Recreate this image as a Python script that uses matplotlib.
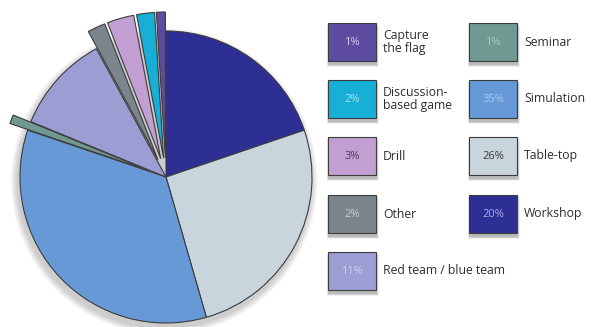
import matplotlib
matplotlib.use("Agg")
import matplotlib.pyplot as plt
from matplotlib.patches import Rectangle, Circle

plt.rcParams['font.family'] = ['Open Sans', 'DejaVu Sans']

# Exercise types, in pie order (clockwise from 12 o'clock)
categories = ["Workshop", "Table-top", "Simulation", "Seminar",
              "Red team / blue team", "Other", "Drill",
              "Discussion-\nbased game", "Capture\nthe flag"]
values = [20, 26, 35, 1, 11, 2, 3, 2, 1]
colors = ["#2e2f94", "#c9d5dd", "#6699d6", "#6f9a92",
          "#9c9dd3", "#7c848e", "#c29fd2", "#18afd6", "#5d4ca0"]
explode = [0, 0, 0, 0.13, 0, 0.13, 0.13, 0.13, 0.13]
pct_colors = ["#a9aae6", "#3a3a3a", "#a9c9f2", "#a9c8c0",
              "#d0d0f4", "#c4ccd4", "#4a3a5a", "#a8e2f2", "#d6ccf2"]

# Legend arrangement: two columns, alphabetical
legend_col1 = ["Capture\nthe flag", "Discussion-\nbased game", "Drill",
               "Other", "Red team / blue team"]
legend_col2 = ["Seminar", "Simulation", "Table-top", "Workshop"]

W, H = 591, 327
fig = plt.figure(figsize=(W / 100, H / 100), dpi=100)
fig.patch.set_facecolor("white")

# Pie axes: centre (166, 177) px, radius 146 px
cx, cy, r = 166, 177, 146
half = 1.2 * r
ax = fig.add_axes([(cx - half) / W, (H - cy - half) / H, 2 * half / W, 2 * half / H])

ax.pie(values, colors=colors, explode=explode, startangle=90, counterclock=False,
       radius=1.0, wedgeprops=dict(edgecolor="#3c3c3c", linewidth=0.8))

# soft shadow behind the pie
for i in range(4):
    ax.add_patch(Circle((-0.012, -0.03), 1.0 + 0.012 * (4 - i), color="#000000",
                        alpha=0.05, lw=0, zorder=0))

ax.set_xlim(-1.2, 1.2)
ax.set_ylim(-1.2, 1.2)
ax.set_aspect("equal")
ax.axis("off")

# Legend boxes drawn in pixel coordinates
fax = fig.add_axes([0, 0, 1, 1])
fax.set_xlim(0, W)
fax.set_ylim(H, 0)
fax.axis("off")
fax.patch.set_alpha(0)

box_w, box_h = 48, 38
row_y = [23, 80, 137, 195, 252]
col_x = [328, 469]
label_dx = 55


def draw_entry(x, y, name):
    i = categories.index(name)
    # drop shadow
    for k, a in enumerate([0.05, 0.06, 0.08, 0.11]):
        g = 4 - k
        fax.add_patch(Rectangle((x + 0.5 - g / 2, y + 3.5 - g / 2), box_w + g, box_h + g,
                                color="black", alpha=a, lw=0, zorder=1))
    fax.add_patch(Rectangle((x, y), box_w, box_h, facecolor=colors[i],
                            edgecolor="#3c3c3c", lw=0.8, zorder=2))
    fax.text(x + box_w / 2, y + box_h / 2 + 0.5, f"{values[i]}%", ha="center",
             va="center", fontsize=8, color=pct_colors[i], zorder=3)
    fax.text(x + label_dx, y + box_h / 2, name, ha="left", va="center",
             fontsize=8.8, color="#2e2e2e", linespacing=0.95, zorder=3)


for name, y in zip(legend_col1, row_y):
    draw_entry(col_x[0], y, name)
for name, y in zip(legend_col2, row_y):
    draw_entry(col_x[1], y, name)

fig.savefig("out.png", dpi=100, facecolor="white")
